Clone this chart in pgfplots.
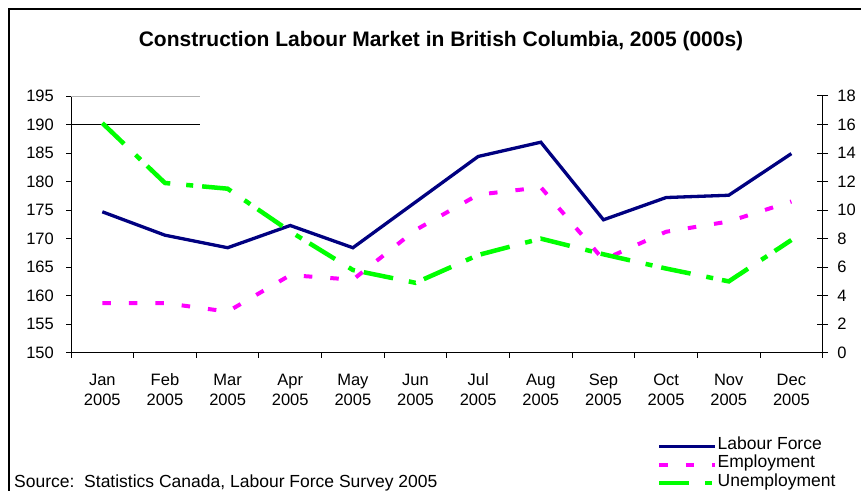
\documentclass[border=0pt]{standalone}
\usepackage{fontspec}
\setmainfont{Liberation Sans}
\usepackage{pgfplots}
\pgfplotsset{compat=1.18}

\definecolor{lfnavy}{RGB}{0,0,128}
\definecolor{empmag}{RGB}{255,0,255}
\definecolor{unlime}{RGB}{0,255,0}

\pgfplotsset{
  lfstyle/.style={lfnavy, line width=3.3bp},
  empstyle/.style={empmag, line width=4bp, dash pattern=on 8.5bp off 18bp},
  unstyle/.style={unlime, line width=4.5bp, dash pattern=on 30bp off 16bp on 7bp off 9bp},
  common/.style={
    at={(71bp,138.3bp)}, anchor=south west,
    scale only axis, width=751.7bp, height=256.7bp,
    xmin=-0.5, xmax=11.5,
    axis line style={black, line width=1bp},
    tick style={black, line width=1bp},
    /pgf/number format/assume math mode=true,
    tick label style={font=\fontsize{16.5bp}{20bp}\selectfont},
  },
}

\begin{document}
\begin{tikzpicture}
% left axis: labour force and employment
\begin{axis}[common,
  ymin=150, ymax=195, ytick={150,155,...,195},
  axis x line*=bottom, axis y line*=left,
  tick align=outside, major tick length=5bp,
  xtick={-0.5,0.5,...,11.5},
  x tick label as interval,
  xticklabels={{\strut Jan\\2005},{\strut Feb\\2005},{\strut Mar\\2005},{\strut Apr\\2005},
               {\strut May\\2005},{\strut Jun\\2005},{\strut Jul\\2005},{\strut Aug\\2005},
               {\strut Sep\\2005},{\strut Oct\\2005},{\strut Nov\\2005},{\strut Dec\\2005}},
  xticklabel style={align=center, inner sep=0pt, anchor=north, yshift=-14bp},
  yticklabel style={anchor=east, inner sep=0pt, xshift=-12bp},
]
\draw[gray!60, line width=1bp] (axis cs:-0.5,195) -- (axis cs:1.56,195);
\draw[black, line width=1bp] (axis cs:-0.5,190) -- (axis cs:1.56,190);
\addplot[lfstyle] coordinates {
  (0,174.7) (1,170.6) (2,168.4) (3,172.3) (4,168.4) (5,176.4)
  (6,184.4) (7,186.9) (8,173.3) (9,177.2) (10,177.6) (11,184.9)};
\addplot[empstyle] coordinates {
  (0,158.7) (1,158.7) (2,157.2) (3,163.6) (4,162.8) (5,171.5)
  (6,177.7) (7,179.0) (8,166.3) (9,171.2) (10,173.0) (11,176.5)};
\end{axis}
% right axis: unemployment
\begin{axis}[common,
  ymin=0, ymax=18, ytick={0,2,...,18},
  axis x line=none, axis y line*=right,
  tick align=center, major tick length=11bp,
  yticklabel style={anchor=west, inner sep=0pt, xshift=9bp},
  legend cell align=left,
  legend image code/.code={\draw[#1] (0bp,0bp) -- (56bp,0bp);},
  legend style={at={(axis description cs:0.7796,-0.3276)}, anchor=north west,
    draw=none, fill=none, inner sep=0pt, row sep=0pt,
    font=\fontsize{17.5bp}{18bp}\selectfont,
    nodes={inner xsep=0pt, inner ysep=0pt, text height=12.5bp, text depth=6bp}},
]
\addlegendimage{lfstyle}
\addlegendentry{Labour Force}
\addlegendimage{empstyle}
\addlegendentry{Employment}
\addplot[unstyle] coordinates {
  (0,16.1) (1,11.9) (2,11.5) (3,8.5) (4,5.8) (5,4.9)
  (6,6.85) (7,8.0) (8,6.9) (9,5.9) (10,5.0) (11,7.9)};
\addlegendentry{Unemployment}
\end{axis}
% title, source note and frame
\node[anchor=base, font=\bfseries\fontsize{21bp}{24bp}\selectfont] at (441bp,444bp)
  {Construction Labour Market in British Columbia, 2005 (000s)};
\node[anchor=base west, inner sep=0pt, font=\fontsize{17.5bp}{18bp}\selectfont] at (14bp,4bp)
  {Source:\ \ Statistics Canada, Labour Force Survey 2005};
\draw[black, line width=1.5bp] (861bp,482bp) -- (9bp,482bp) -- (9bp,0bp);
\pgfresetboundingbox
\path[use as bounding box] (0bp,0bp) rectangle (861bp,491bp);
\end{tikzpicture}
\end{document}
